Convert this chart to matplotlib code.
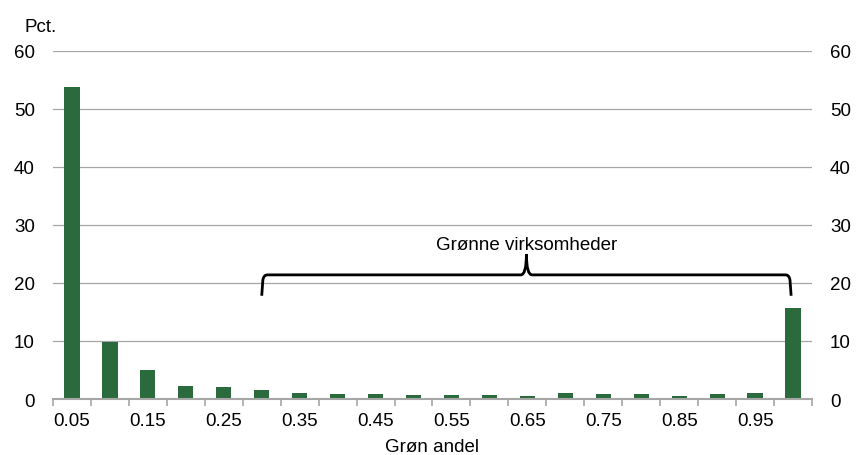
import matplotlib.pyplot as plt
from matplotlib.path import Path
from matplotlib.patches import PathPatch
import numpy as np

plt.rcParams['font.family'] = ['Liberation Sans', 'DejaVu Sans']

# andel groen omsaetning (kategori) og andel virksomheder i pct.
categories = ["0.05", "0.10", "0.15", "0.20", "0.25", "0.30", "0.35", "0.40", "0.45", "0.50",
              "0.55", "0.60", "0.65", "0.70", "0.75", "0.80", "0.85", "0.90", "0.95", "1.00"]
values = [53.8, 9.8, 5.0, 2.2, 2.1, 1.6, 1.1, 0.85, 0.8, 0.75,
          0.7, 0.75, 0.6, 1.0, 0.8, 0.8, 0.6, 0.9, 1.0, 15.7]
yticks = [0, 10, 20, 30, 40, 50, 60]
bracket_label = "Grønne virksomheder"

bar_color = "#2a6a3c"
grid_color = "#a6a6a6"
fs = 13.5

fig = plt.figure(figsize=(8.56, 4.56), dpi=100)
ax = fig.add_axes([0.0619, 0.1228, 0.8867, 0.7632])

x = np.arange(len(categories))
ax.bar(x, values, width=0.4, color=bar_color, zorder=3)

ax.set_xlim(-0.5, len(categories) - 0.5)
ax.set_ylim(0, 60)
ax.set_yticks(yticks)
ax.yaxis.grid(True, color=grid_color, linewidth=0.9, zorder=0)
ax.tick_params(axis='y', length=0, labelsize=fs, pad=13, labelright=True, right=False)

# x-akse: etiketter paa hver anden kategori, tickmarks mellem kategorier
ax.set_xticks(x[::2])
ax.set_xticklabels(categories[::2])
ax.set_xticks(np.arange(-0.5, len(categories)), minor=True)
ax.tick_params(axis='x', which='major', length=0, labelsize=fs, pad=9)
ax.tick_params(axis='x', which='minor', length=5, color=grid_color, width=1.2, direction='out')

for side in ['top', 'left', 'right']:
    ax.spines[side].set_visible(False)
ax.spines['bottom'].set_color(grid_color)
ax.spines['bottom'].set_linewidth(1.5)
ax.spines['bottom'].set_zorder(4)

# klamme over de groenne virksomheder
x0, x1 = 5.0, 18.95
xm = (x0 + x1) / 2
yb, yh, yp = 17.8, 21.4, 25.0
r = 0.1
codes = [Path.MOVETO, Path.LINETO, Path.CURVE3, Path.CURVE3, Path.LINETO, Path.CURVE3, Path.CURVE3,
         Path.MOVETO, Path.CURVE3, Path.CURVE3, Path.LINETO, Path.CURVE3, Path.CURVE3, Path.LINETO]
verts = [(x0, yb), (x0 + 0.03, yh - 0.9), (x0 + 0.05, yh), (x0 + r * 1.5, yh), (xm - r * 1.5, yh), (xm, yh), (xm, yp),
         (xm, yp), (xm, yh), (xm + r * 1.5, yh), (x1 - r * 1.5, yh), (x1 - 0.05, yh), (x1 - 0.03, yh - 0.9), (x1, yb)]
ax.add_patch(PathPatch(Path(verts, codes), fill=False, edgecolor='black', linewidth=2.0, zorder=5,
                       capstyle='butt'))
ax.text(xm, yp + 0.2, bracket_label, ha='center', va='bottom', fontsize=fs)

fig.text(0.029, 0.922, "Pct.", fontsize=fs, ha='left', va='bottom')
fig.text(0.505, 0.0, "Grøn andel", fontsize=fs, ha='center', va='bottom')

fig.savefig("out.png", dpi=100)
